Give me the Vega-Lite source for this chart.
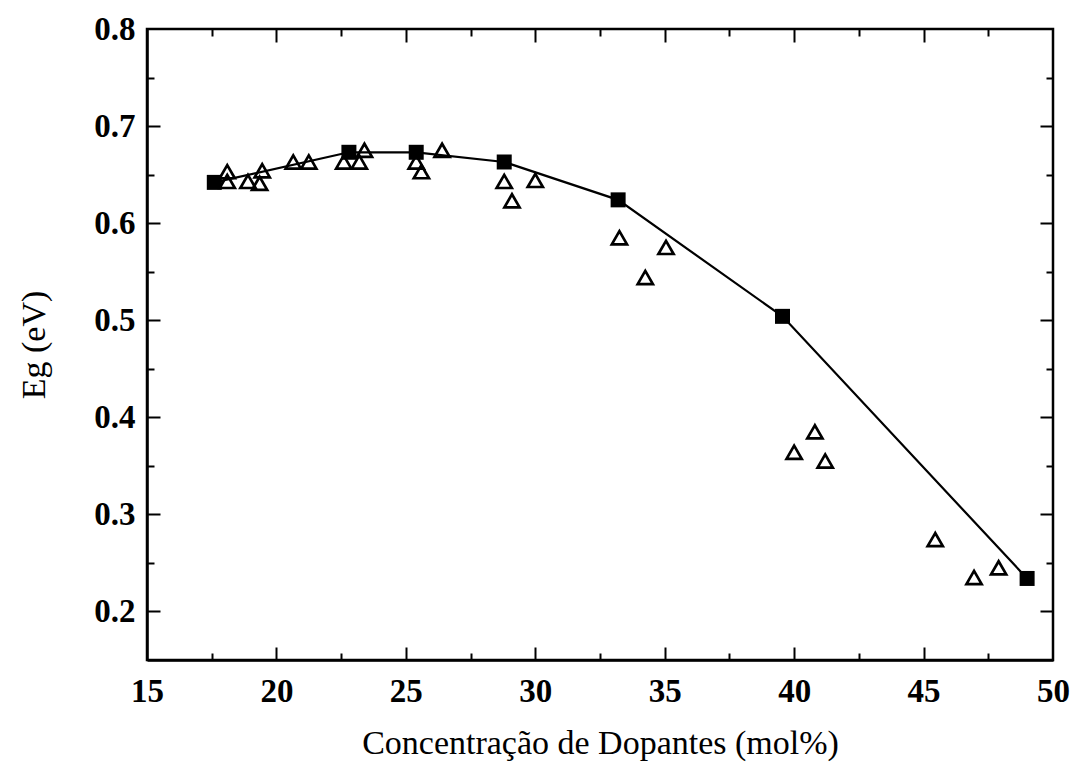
{
  "$schema": "https://vega.github.io/schema/vega-lite/v6.json",
  "width": 906,
  "height": 631,
  "autosize": "none",
  "padding": {"left": 147, "top": 29, "right": 20, "bottom": 104},
  "background": "white",
  "config": {
    "view": {"stroke": "black", "strokeWidth": 2.5},
    "axis": {
      "domainColor": "black", "domainWidth": 2.5,
      "tickColor": "black", "tickWidth": 2,
      "grid": false,
      "labelFont": "Liberation Serif", "labelFontSize": 33, "labelFontWeight": "bold", "labelColor": "black",
      "titleFont": "Liberation Serif", "titleFontSize": 34, "titleColor": "black", "titleFontWeight": "normal"
    }
  },
  "datasets": {
    "fit": [
      {"x": 17.6, "y": 0.642},
      {"x": 22.8, "y": 0.673},
      {"x": 25.4, "y": 0.673},
      {"x": 28.8, "y": 0.663},
      {"x": 33.2, "y": 0.624},
      {"x": 39.55, "y": 0.504},
      {"x": 49.0, "y": 0.234}
    ],
    "obs": [
      {"x": 18.1, "y": 0.653},
      {"x": 18.1, "y": 0.643},
      {"x": 18.9, "y": 0.643},
      {"x": 19.35, "y": 0.641},
      {"x": 19.45, "y": 0.654},
      {"x": 20.65, "y": 0.663},
      {"x": 21.25, "y": 0.663},
      {"x": 22.6, "y": 0.663},
      {"x": 23.2, "y": 0.663},
      {"x": 23.4, "y": 0.675},
      {"x": 25.4, "y": 0.663},
      {"x": 25.6, "y": 0.653},
      {"x": 26.4, "y": 0.675},
      {"x": 28.8, "y": 0.643},
      {"x": 29.1, "y": 0.623},
      {"x": 30.0, "y": 0.644},
      {"x": 33.25, "y": 0.585},
      {"x": 34.25, "y": 0.544},
      {"x": 35.05, "y": 0.575},
      {"x": 40.0, "y": 0.364},
      {"x": 40.8, "y": 0.385},
      {"x": 41.2, "y": 0.355},
      {"x": 45.45, "y": 0.274},
      {"x": 46.95, "y": 0.235},
      {"x": 47.9, "y": 0.245}
    ]
  },
  "resolve": {"axis": {"x": "independent", "y": "independent"}},
  "layer": [
    {
      "data": {"name": "fit"},
      "mark": {"type": "line", "color": "black", "strokeWidth": 2.2},
      "encoding": {
        "x": {"field": "x", "type": "quantitative",
          "scale": {"domain": [15, 50], "nice": false, "zero": false},
          "axis": {
            "orient": "bottom",
            "title": "Concentração de Dopantes (mol%)",
            "titlePadding": 18,
            "values": [15, 20, 25, 30, 35, 40, 45, 50],
            "ticks": false,
            "labelPadding": 15,
            "labelFlush": false
          }
        },
        "y": {"field": "y", "type": "quantitative",
          "scale": {"domain": [0.15, 0.8], "nice": false, "zero": false},
          "axis": {
            "orient": "left",
            "title": "Eg (eV)",
            "titlePadding": 42,
            "values": [0.2, 0.3, 0.4, 0.5, 0.6, 0.7, 0.8],
            "format": ".1f",
            "ticks": false,
            "labelPadding": 12,
            "labelFlush": false
          }
        }
      }
    },
    {
      "data": {"name": "fit"},
      "mark": {"type": "point", "shape": "square", "filled": true, "color": "black", "size": 225, "opacity": 1},
      "encoding": {
        "x": {"field": "x", "type": "quantitative",
          "scale": {"domain": [15, 50], "nice": false, "zero": false},
          "axis": {"orient": "top", "offset": -631, "title": null, "labels": false, "domain": false,
            "values": [20, 25, 30, 35, 40, 45], "tickSize": 13}
        },
        "y": {"field": "y", "type": "quantitative",
          "scale": {"domain": [0.15, 0.8], "nice": false, "zero": false},
          "axis": {"orient": "right", "offset": -906, "title": null, "labels": false, "domain": false,
            "values": [0.2, 0.3, 0.4, 0.5, 0.6, 0.7], "tickSize": 13}
        }
      }
    },
    {
      "data": {"name": "obs"},
      "mark": {"type": "point", "shape": "triangle-up", "filled": false, "color": "black", "fill": "white", "fillOpacity": 0, "size": 230, "strokeWidth": 2.7, "opacity": 1},
      "encoding": {
        "x": {"field": "x", "type": "quantitative",
          "scale": {"domain": [15, 50], "nice": false, "zero": false},
          "axis": {"orient": "bottom", "offset": -631, "title": null, "labels": false, "domain": false,
            "values": [20, 25, 30, 35, 40, 45], "tickSize": 13}
        },
        "y": {"field": "y", "type": "quantitative",
          "scale": {"domain": [0.15, 0.8], "nice": false, "zero": false},
          "axis": {"orient": "left", "offset": -906, "title": null, "labels": false, "domain": false,
            "values": [0.2, 0.3, 0.4, 0.5, 0.6, 0.7], "tickSize": 13}
        }
      }
    },
    {
      "data": {"name": "obs"},
      "mark": {"type": "point", "opacity": 0},
      "encoding": {
        "x": {"field": "x", "type": "quantitative",
          "scale": {"domain": [15, 50], "nice": false, "zero": false},
          "axis": {"orient": "top", "offset": -631, "title": null, "labels": false, "domain": false,
            "values": [17.5, 22.5, 27.5, 32.5, 37.5, 42.5, 47.5], "tickSize": 7}
        },
        "y": {"field": "y", "type": "quantitative",
          "scale": {"domain": [0.15, 0.8], "nice": false, "zero": false},
          "axis": {"orient": "right", "offset": -906, "title": null, "labels": false, "domain": false,
            "values": [0.25, 0.35, 0.45, 0.55, 0.65, 0.75], "tickSize": 7}
        }
      }
    },
    {
      "data": {"name": "obs"},
      "mark": {"type": "point", "opacity": 0},
      "encoding": {
        "x": {"field": "x", "type": "quantitative",
          "scale": {"domain": [15, 50], "nice": false, "zero": false},
          "axis": {"orient": "bottom", "offset": -631, "title": null, "labels": false, "domain": false,
            "values": [17.5, 22.5, 27.5, 32.5, 37.5, 42.5, 47.5], "tickSize": 7}
        },
        "y": {"field": "y", "type": "quantitative",
          "scale": {"domain": [0.15, 0.8], "nice": false, "zero": false},
          "axis": {"orient": "left", "offset": -906, "title": null, "labels": false, "domain": false,
            "values": [0.25, 0.35, 0.45, 0.55, 0.65, 0.75], "tickSize": 7}
        }
      }
    }
  ]
}
